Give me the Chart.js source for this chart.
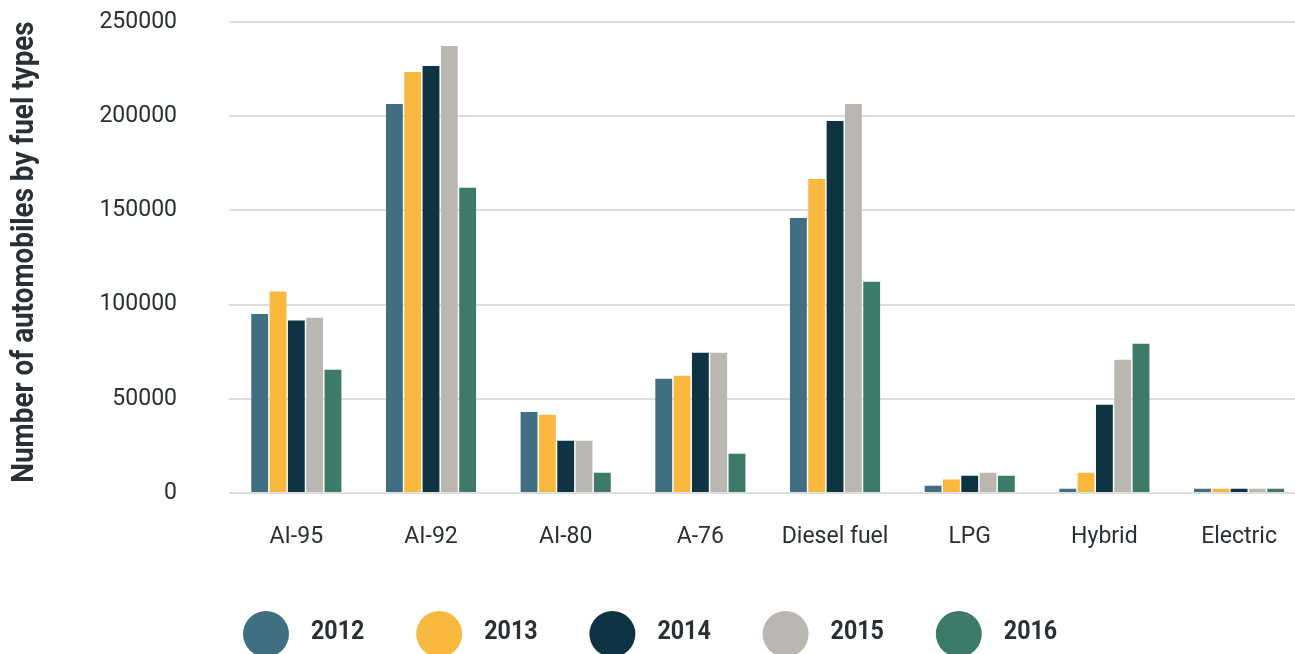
<!DOCTYPE html>
<html>
<head>
<meta charset="utf-8">
<title>Automobiles by fuel type</title>
<script src="https://cdn.jsdelivr.net/npm/chart.js@4.4.0/dist/chart.umd.min.js"></script>
<style>
  html, body { margin: 0; padding: 0; background: #fff; overflow: hidden; }
  #wrap { width: 1307px; height: 654px; position: relative; }
</style>
</head>
<body>
<div id="wrap"><canvas id="fuelChart"></canvas></div>
<script>
var fuelTypes = ['AI-95', 'AI-92', 'AI-80', 'A-76', 'Diesel fuel', 'LPG', 'Hybrid', 'Electric'];
var years = ['2012', '2013', '2014', '2015', '2016'];

var cars2012 = [95000, 206500, 43000, 60600, 146000, 3900, 2300, 2200];
var cars2013 = [107000, 223500, 41500, 62200, 166700, 7100, 10800, 2200];
var cars2014 = [91500, 226700, 27700, 74400, 197500, 9200, 46800, 2200];
var cars2015 = [93000, 237300, 27700, 74400, 206500, 10800, 70700, 2200];
var cars2016 = [65400, 162000, 10800, 20800, 112100, 9200, 79200, 2200];

var yTicks = [0, 50000, 100000, 150000, 200000, 250000];
var yTitle = 'Number of automobiles by fuel types';

var colors = ['#406e82', '#f9b83e', '#0e3443', '#bab7b2', '#3e7a6a'];
var series = [cars2012, cars2013, cars2014, cars2015, cars2016];

var textColor = '#2a2f33';

/* y title and legend are drawn by hand, narrowed a little */
var extras = {
  id: 'extras',
  afterDraw: function(chart) {
    var ctx = chart.ctx;

    ctx.save();
    ctx.fillStyle = textColor;
    ctx.font = 'bold 32px Roboto';
    ctx.textAlign = 'center';
    ctx.textBaseline = 'middle';
    ctx.translate(25, 252);
    ctx.rotate(-Math.PI / 2);
    ctx.scale(0.87, 1);
    ctx.fillText(yTitle, 0, 0);
    ctx.restore();

    var sets = chart.data.datasets;
    for (var i = 0; i < sets.length; i++) {
      var cx = 266 + i * 173.2;
      ctx.save();
      ctx.fillStyle = sets[i].backgroundColor;
      ctx.beginPath();
      ctx.arc(cx, 634, 23, 0, Math.PI * 2);
      ctx.fill();
      ctx.fillStyle = textColor;
      ctx.font = 'bold 25px Roboto';
      ctx.textAlign = 'left';
      ctx.textBaseline = 'middle';
      ctx.translate(cx + 45, 633);
      ctx.scale(0.93, 1);
      ctx.fillText(sets[i].label, 0, 0);
      ctx.restore();
    }
  }
};

var ctx = document.getElementById('fuelChart');

new Chart(ctx, {
  type: 'bar',
  data: {
    labels: fuelTypes,
    datasets: years.map(function(y, i) {
      return {
        label: y,
        data: series[i],
        backgroundColor: colors[i],
        categoryPercentage: 0.68,
        barPercentage: 0.92
      };
    })
  },
  options: {
    responsive: true,
    maintainAspectRatio: false,
    animation: false,
    layout: { padding: { top: 22, right: 0, bottom: 0, left: 0 } },
    plugins: {
      legend: { display: false },
      tooltip: { enabled: false }
    },
    scales: {
      x: {
        grid: { display: false, drawTicks: false },
        border: { display: false },
        ticks: {
          color: textColor,
          font: { family: 'Roboto', size: 23 },
          padding: 30,
          maxRotation: 0
        },
        afterFit: function(s) { s.height = 161; }
      },
      y: {
        min: 0,
        max: 250000,
        afterBuildTicks: function(s) {
          s.ticks = yTicks.map(function(v) { return { value: v }; });
        },
        grid: { color: '#dedede', lineWidth: 2, drawTicks: false },
        border: { display: false },
        ticks: {
          color: textColor,
          font: { family: 'Roboto', size: 23 },
          padding: 52,
          callback: function(v) { return String(v); }
        },
        // keep the big label gap from pushing the plot down
        afterFit: function(s) {
          s.width = 229;
          s.paddingTop = 0;
          s.paddingBottom = 0;
        }
      }
    }
  },
  plugins: [extras]
});
</script>
</body>
</html>
